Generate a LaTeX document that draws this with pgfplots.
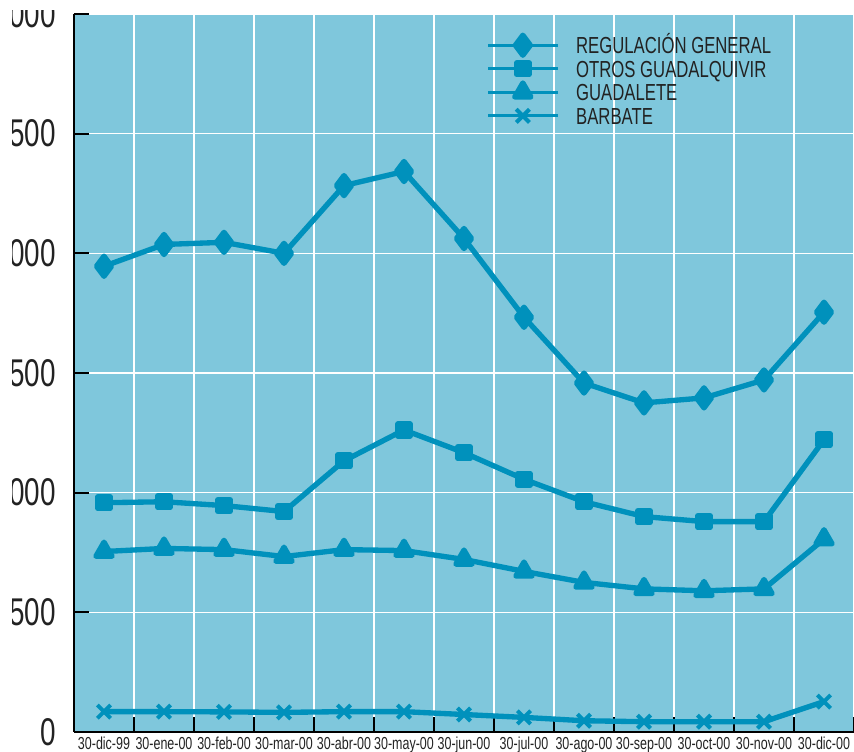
\documentclass[border=0pt]{standalone}
\usepackage{pgfplots}
\usepackage{pgfplotstable}
\pgfplotsset{compat=1.18}
\usepackage{fontspec}
\setmainfont{Liberation Sans}
\newfontfamily\cnf{Liberation Sans}[FakeStretch=0.72]
\definecolor{bgblue}{HTML}{7FC7DC}
\definecolor{lineblue}{HTML}{0091BC}
\definecolor{txt}{HTML}{222222}

% embalses: volumen por fecha
\pgfplotstableread{
x   rg    og    gu   ba
0   1946  958   754  85
1   2037  962   767  85
2   2046  946   762  84
3   2000  921   733  82
4   2283  1133  762  85
5   2342  1262  758  85
6   2062  1167  721  73
7   1733  1056  671  61
8   1458  962   625  47
9   1375  900   598  43
10  1396  879   590  43
11  1471  879   598  43
12  1754  1221  806  127
}\datos

\begin{document}
\begin{tikzpicture}
\begin{axis}[
    name=ax,
    scale only axis,
    width=585pt, height=538.5pt,
    xmin=-0.5, xmax=12.5, ymin=0, ymax=3000,
    axis background/.style={fill=bgblue},
    axis x line*=bottom, axis y line*=left,
    axis line style={black, line width=2pt},
    xtick={0,...,12},
    xticklabels={30-dic-99,30-ene-00,30-feb-00,30-mar-00,30-abr-00,30-may-00,30-jun-00,30-jul-00,30-ago-00,30-sep-00,30-oct-00,30-nov-00,30-dic-00},
    major x tick style={draw=none},
    minor xtick={0.5,1.5,...,12.5},
    minor x tick style={black, line width=1.5pt},
    ytick={0,500,...,3000},
    y tick style={black, line width=1.5pt},
    major tick length=11pt, minor tick length=11pt,
    xminorgrids, ymajorgrids,
    grid style={white, line width=1pt},
    /pgf/number format/1000 sep={},
    /pgf/number format/assume math mode=true,
    xticklabel style={font=\cnf\fontsize{13}{13}\selectfont, text=txt, anchor=north, inner sep=0pt, yshift=-3.5pt},
    yticklabel style={font=\cnf\fontsize{29}{29}\selectfont, text=txt, anchor=east, inner sep=0pt, xshift=-13.5pt},
    legend cell align=left,
    legend style={at={(axis description cs:0.531,0.968)}, anchor=north west,
        draw=none, fill=none, inner sep=0pt, outer sep=0pt, row sep=5.25pt,
        font=\cnf\fontsize{17.4}{17.4}\selectfont, text=txt,
        nodes={inner sep=0pt, text height=12.4pt, text depth=0pt},
        /tikz/every odd column/.append style={column sep=14pt}},
    legend image code/.code={
        \draw[overlay, lineblue, line width=2pt] (0pt,0pt) -- (52pt,0pt);
        \draw[overlay, #1] plot[only marks] coordinates {(26pt,0pt)};
        \path[draw=none, fill=none] (0pt,-3pt) rectangle (52pt,3pt);},
]
\addplot[lineblue, line width=4pt, line join=round, mark=diamond*, mark size=7.5pt, mark options={draw=none, fill=lineblue}] table[x=x, y=rg] {\datos};
\addlegendentry{REGULACIÓN GENERAL}
\addplot[lineblue, line width=4pt, line join=round, mark=square*, mark size=4.5pt, mark options={draw=none, fill=lineblue}] table[x=x, y=og] {\datos};
\addlegendentry{OTROS GUADALQUIVIR}
\addplot[lineblue, line width=4pt, line join=round, mark=triangle*, mark size=7pt, mark options={draw=none, fill=lineblue}] table[x=x, y=gu] {\datos};
\addlegendentry{GUADALETE}
\addplot[lineblue, line width=4pt, line join=round, mark=x, mark size=7pt, mark options={line width=3pt}] table[x=x, y=ba] {\datos};
\addlegendentry{BARBATE}
\end{axis}
\pgfresetboundingbox
\path[use as bounding box] ([xshift=-55.5pt, yshift=-15pt]ax.south west) rectangle ([yshift=10.5pt]ax.north east);
% the reference is cropped: white margin on the left and top
\fill[white] ([xshift=-55.5pt, yshift=-15pt]ax.south west) rectangle ([xshift=-46.5pt, yshift=10.5pt]ax.north west);
\fill[white] ([xshift=-55.5pt, yshift=3pt]ax.north west) rectangle ([yshift=10.5pt]ax.north east);
\end{tikzpicture}
\end{document}
